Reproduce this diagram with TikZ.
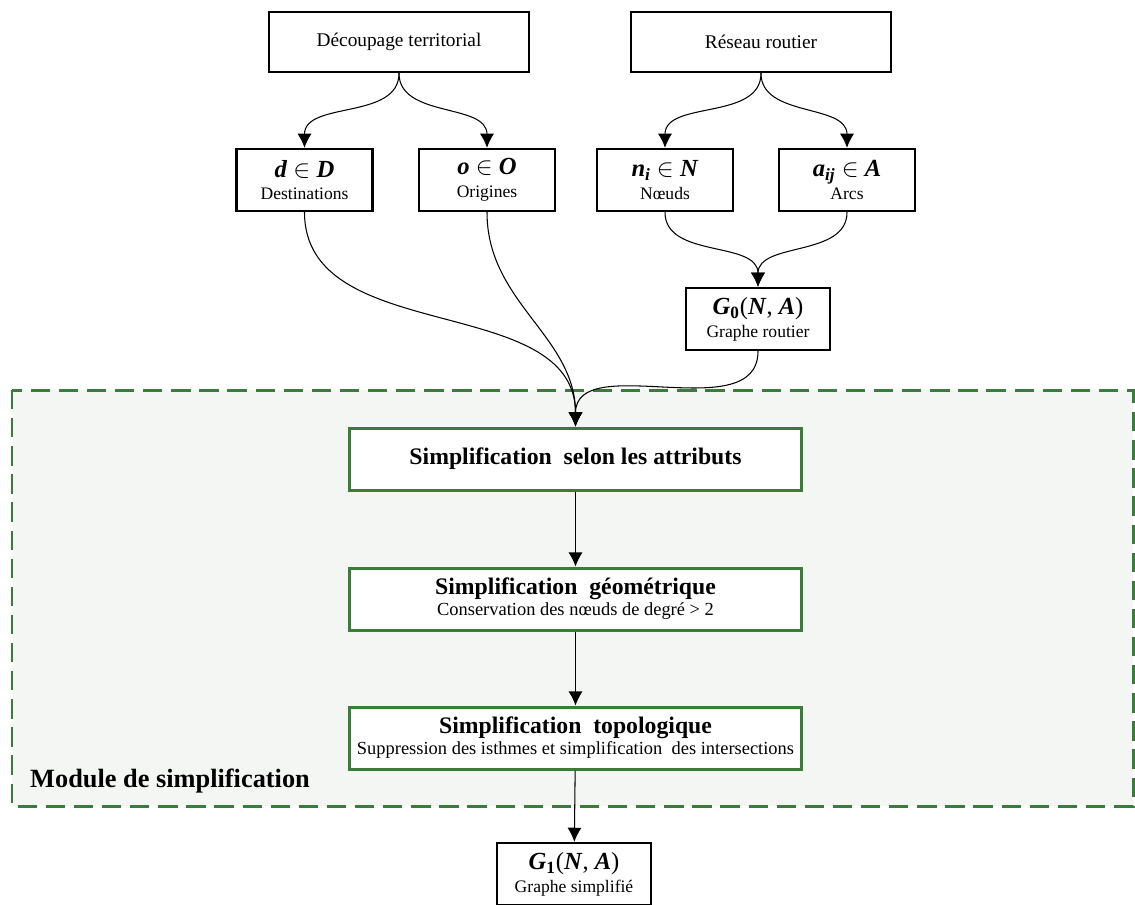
\documentclass[tikz,border=0pt]{standalone}
\usepackage{fontspec}
\setmainfont{Liberation Serif}
\usetikzlibrary{arrows.meta}
\definecolor{darkgreen}{HTML}{3A7D3A}
\definecolor{panel}{HTML}{F4F6F4}
\newcommand{\bi}[1]{\textbf{\textit{#1}}}
\newcommand{\symb}{\fontsize{14}{16}\selectfont}
\newcommand{\lbl}{\fontsize{10}{12}\selectfont}

\begin{document}
\begin{tikzpicture}[x=0.02cm,y=-0.02cm,
  box/.style={draw,line width=1.4pt,fill=white,align=center,inner sep=1pt},
  simpbox/.style={draw=darkgreen,line width=1.7pt,fill=white,align=center,
    minimum width=9.06cm,minimum height=1.24cm,inner sep=1pt},
  link/.style={-{Latex[length=8pt,width=8pt]},line width=0.6pt}]
  \useasboundingbox (0,0) rectangle (1135,904);
  % module de simplification
  \fill[panel] (12,390) rectangle (1133,806);
  \draw[darkgreen,line width=1.7pt,dash pattern=on 11pt off 5pt] (12,390) rectangle (1133,806);
  \node[anchor=west,font=\bfseries\fontsize{15}{17}\selectfont] (module) at (24,781) {Module de simplification};
  % donnees
  \node[box,minimum width=5.2cm,minimum height=1.2cm,font=\fontsize{11}{13}\selectfont] (decoup) at (399,42) {Découpage territorial};
  \node[box,minimum width=5.2cm,minimum height=1.2cm,font=\fontsize{11}{13}\selectfont] (reseau) at (761,42) {Réseau routier};
  \node[box,minimum width=2.72cm,minimum height=1.24cm] (dest) at (304.5,180) {{\symb\bi{d} $\in$ \bi{D}}\\[1pt]{\lbl Destinations}};
  \node[box,minimum width=2.72cm,minimum height=1.24cm] (orig) at (487,180) {{\symb\bi{o} $\in$ \bi{O}}\\[1pt]{\lbl Origines}};
  \node[box,minimum width=2.72cm,minimum height=1.24cm] (noeud) at (665,180) {{\symb\bi{n}\textsubscript{\bi{i}} $\in$ \bi{N}}\\[1pt]{\lbl Nœuds}};
  \node[box,minimum width=2.72cm,minimum height=1.24cm] (arc) at (847,180) {{\symb\bi{a}\textsubscript{\bi{ij}} $\in$ \bi{A}}\\[1pt]{\lbl Arcs}};
  \node[box,minimum width=2.88cm,minimum height=1.24cm] (g0) at (758,319) {{\symb\bi{G}\textsubscript{\textbf{0}}(\bi{N}, \bi{A})}\\[1pt]{\lbl Graphe routier}};
  % etapes
  \node[simpbox,font=\bfseries\fontsize{13.5}{16}\selectfont] (attr) at (575.5,459) {Simplification\ \ selon les attributs};
  \node[simpbox] (geom) at (575.5,599) {{\bfseries\fontsize{13.5}{16}\selectfont Simplification\ \ géométrique}\\[0pt]{\fontsize{10.5}{12}\selectfont Conservation des nœuds de degré > 2}};
  \node[simpbox] (topo) at (575.5,738) {{\bfseries\fontsize{13.5}{16}\selectfont Simplification\ \ topologique}\\[0pt]{\fontsize{10.5}{12}\selectfont Suppression des isthmes et simplification\ \ des intersections}};
  \node[box,minimum width=3.08cm,minimum height=1.24cm] (g1) at (574,874) {{\symb\bi{G}\textsubscript{\textbf{1}}(\bi{N}, \bi{A})}\\[1pt]{\lbl Graphe simplifié}};
  % liens
  \draw[link] (decoup.south) to[out=-90,in=90] (dest.north);
  \draw[link] (decoup.south) to[out=-90,in=90] (orig.north);
  \draw[link] (reseau.south) to[out=-90,in=90] (noeud.north);
  \draw[link] (reseau.south) to[out=-90,in=90] (arc.north);
  \draw[link] (noeud.south) to[out=-90,in=90] (g0.north);
  \draw[link] (arc.south) to[out=-90,in=90] (g0.north);
  \draw[link] (dest.south) to[out=-90,in=90] (attr.north);
  \draw[link] (orig.south) to[out=-90,in=90] (attr.north);
  \draw[link] (g0.south) to[out=-90,in=90] (attr.north);
  \draw[link] (attr) -- (geom);
  \draw[link] (geom) -- (topo);
  \draw[link] (topo) -- (g1);
\end{tikzpicture}
\end{document}
